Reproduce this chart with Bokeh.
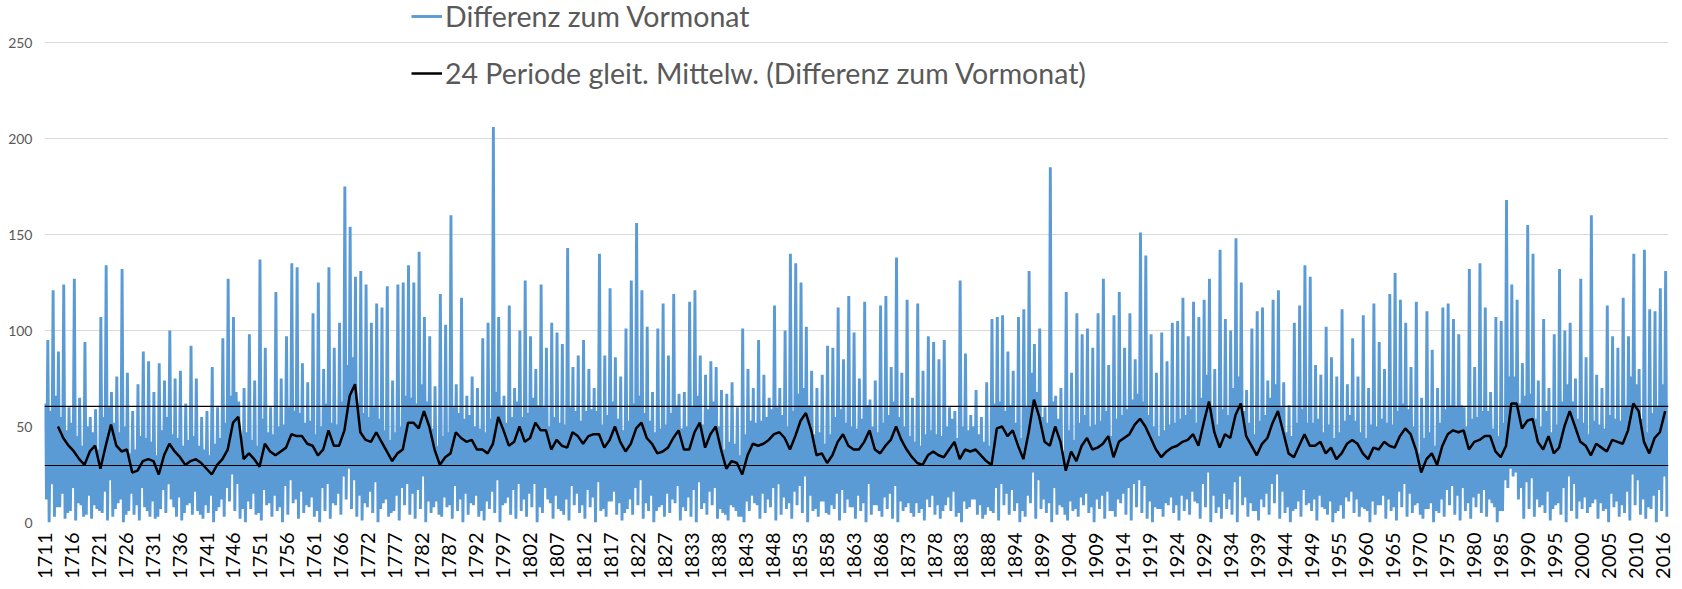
import math
from bokeh.plotting import figure
from bokeh.models import FixedTicker, Legend, LegendItem, Span, Range1d
from bokeh.embed import file_html
from bokeh.resources import INLINE

FIRST_YEAR = 1711
N_MONTHS = 3674
TICK_STEP_MONTHS = 61

x_tick_labels = [
    "1711", "1716", "1721", "1726", "1731", "1736", "1741", "1746", "1751", "1756",
    "1761", "1766", "1772", "1777", "1782", "1787", "1792", "1797", "1802", "1807",
    "1812", "1817", "1822", "1827", "1833", "1838", "1843", "1848", "1853", "1858",
    "1863", "1868", "1873", "1878", "1883", "1888", "1894", "1899", "1904", "1909",
    "1914", "1919", "1924", "1929", "1934", "1939", "1944", "1949", "1955", "1960",
    "1965", "1970", "1975", "1980", "1985", "1990", "1995", "2000", "2005", "2010",
    "2016",
]
y_ticks = [0, 50, 100, 150, 200, 250]

# yearly highest spike of "Differenz zum Vormonat" (1711 .. 2016)
yearly_peak = [
    95, 121, 89, 124, 60, 127, 65, 94, 55, 59,
    107, 134, 68, 76, 132, 78, 58, 72, 89, 84,
    68, 83, 74, 100, 75, 79, 62, 92, 75, 55,
    58, 81, 60, 96, 127, 107, 63, 70, 98, 74,
    137, 91, 60, 120, 75, 97, 135, 133, 83, 73,
    109, 125, 80, 133, 91, 104, 175, 154, 128, 131,
    124, 104, 114, 112, 123, 74, 124, 125, 134, 125,
    141, 107, 97, 71, 119, 103, 160, 72, 117, 66,
    76, 70, 96, 104, 206, 107, 66, 113, 70, 100,
    126, 97, 80, 124, 91, 104, 99, 93, 143, 81,
    87, 95, 80, 70, 140, 87, 122, 86, 76, 101,
    126, 156, 121, 102, 68, 101, 114, 87, 119, 67,
    68, 115, 121, 87, 77, 84, 81, 69, 67, 73,
    60, 101, 80, 70, 95, 77, 65, 113, 70, 100,
    140, 135, 125, 102, 79, 70, 77, 92, 91, 112,
    85, 118, 99, 75, 115, 64, 74, 113, 118, 81,
    138, 78, 116, 65, 114, 79, 97, 94, 85, 95,
    60, 58, 126, 88, 56, 69, 55, 73, 106, 107,
    108, 89, 79, 107, 111, 131, 93, 101, 60, 185,
    66, 70, 120, 78, 109, 98, 101, 91, 109, 127,
    82, 108, 120, 91, 109, 85, 151, 139, 98, 78,
    99, 84, 104, 105, 117, 97, 115, 107, 116, 127,
    80, 142, 106, 100, 148, 125, 69, 101, 110, 112,
    74, 116, 121, 73, 61, 104, 113, 134, 128, 82,
    77, 102, 86, 76, 111, 72, 96, 76, 108, 70,
    114, 94, 80, 119, 130, 116, 104, 81, 115, 65,
    110, 90, 70, 112, 114, 106, 98, 60, 132, 81,
    135, 112, 68, 107, 105, 168, 124, 116, 83, 155,
    140, 74, 106, 70, 98, 132, 100, 104, 75, 127,
    86, 160, 77, 70, 113, 97, 91, 117, 97, 140,
    80, 142, 111, 110, 122, 131,
]

# yearly deepest dip (1711 .. 2016)
yearly_trough = [
    0, 3, 8, 2, 6, 1, 9, 4, 2, 7,
    5, 1, 3, 10, 0, 6, 4, 1, 8, 3,
    2, 7, 5, 12, 3, 1, 9, 4, 6, 2,
    5, 0, 8, 3, 11, 6, 2, 0, 7, 4,
    1, 9, 3, 6, 0, 4, 10, 2, 5, 8,
    3, 0, 6, 2, 9, 4, 12, 7, 3, 1,
    8, 5, 0, 10, 3, 6, 1, 9, 4, 2,
    7, 0, 5, 11, 3, 8, 2, 6, 0, 4,
    9, 3, 1, 7, 5, 0, 10, 4, 2, 6,
    3, 8, 0, 5, 12, 2, 7, 4, 1, 9,
    5, 2, 8, 0, 6, 3, 11, 4, 1, 7,
    4, 9, 2, 6, 0, 8, 3, 5, 10, 1,
    6, 3, 0, 7, 4, 9, 2, 5, 1, 8,
    3, 0, 6, 10, 2, 5, 8, 1, 4, 7,
    2, 9, 5, 0, 6, 3, 11, 4, 7, 1,
    5, 8, 2, 6, 0, 4, 9, 3, 7, 2,
    0, 6, 10, 3, 5, 1, 8, 4, 2, 9,
    6, 3, 0, 7, 12, 4, 2, 8, 5, 1,
    9, 4, 6, 0, 3, 10, 2, 7, 5, 0,
    4, 8, 1, 6, 3, 9, 5, 0, 7, 2,
    6, 3, 10, 4, 1, 8, 5, 2, 0, 7,
    3, 9, 5, 1, 6, 4, 11, 2, 8, 0,
    5, 2, 7, 4, 0, 9, 3, 6, 1, 8,
    4, 10, 2, 5, 0, 7, 3, 9, 6, 1,
    8, 4, 0, 6, 2, 11, 5, 3, 7, 0,
    4, 9, 2, 6, 1, 8, 3, 5, 10, 2,
    7, 0, 5, 3, 9, 4, 1, 6, 2, 8,
    5, 3, 10, 0, 6, 18, 24, 12, 2, 7,
    3, 8, 5, 1, 9, 4, 0, 6, 2, 7,
    5, 10, 2, 6, 0, 8, 3, 5, 1, 9,
    4, 2, 7, 0, 6, 3,
]

# yearly top of the dense blue band (secondary monthly highs), 1711 .. 2016
yearly_band_high = [
    62, 58, 66, 55, 48, 52, 45, 40, 50, 47,
    38, 55, 60, 52, 47, 50, 36, 38, 45, 44,
    42, 35, 48, 55, 46, 44, 40, 43, 45, 40,
    38, 35, 41, 44, 52, 66, 68, 45, 47, 43,
    40, 54, 47, 46, 50, 51, 60, 58, 57, 52,
    53, 46, 50, 62, 52, 51, 63, 82, 86, 62,
    57, 55, 60, 54, 48, 43, 47, 50, 66, 65,
    62, 72, 63, 49, 40, 45, 47, 60, 57, 54,
    56, 50, 49, 47, 54, 68, 61, 52, 55, 63,
    55, 57, 65, 61, 60, 50, 55, 52, 51, 60,
    58, 53, 58, 59, 58, 51, 56, 63, 54, 48,
    53, 62, 66, 57, 53, 47, 49, 51, 57, 61,
    49, 50, 60, 66, 51, 59, 63, 50, 38, 42,
    41, 35, 46, 53, 52, 53, 55, 59, 60, 56,
    50, 58, 67, 70, 61, 46, 47, 41, 46, 55,
    59, 52, 50, 49, 54, 61, 50, 47, 52, 56,
    63, 55, 50, 45, 42, 40, 46, 48, 46, 45,
    50, 54, 44, 50, 48, 50, 46, 42, 40, 62,
    63, 58, 61, 52, 44, 60, 78, 68, 55, 52,
    63, 54, 37, 48, 43, 52, 56, 50, 51, 53,
    58, 45, 54, 56, 59, 64, 67, 63, 56, 50,
    45, 48, 51, 52, 54, 56, 59, 52, 65, 77,
    60, 51, 59, 56, 70, 76, 58, 52, 46, 53,
    56, 65, 72, 60, 47, 45, 52, 59, 52, 52,
    54, 47, 51, 44, 47, 53, 56, 53, 47, 44,
    51, 50, 54, 52, 51, 58, 62, 59, 50, 36,
    44, 47, 40, 52, 59, 61, 60, 61, 50, 54,
    55, 58, 58, 49, 45, 52, 76, 76, 62, 66,
    67, 54, 50, 58, 47, 51, 63, 72, 63, 54,
    52, 46, 53, 51, 49, 56, 54, 53, 61, 76,
    72, 54, 47, 57, 60, 72,
]

# yearly bottom of the dense blue band (secondary monthly lows), 1711 .. 2016
yearly_band_low = [
    12, 20, 8, 15, 5, 18, 10, 3, 14, 9,
    6, 16, 22, 7, 12, 4, 15, 9, 18, 6,
    11, 3, 17, 20, 8, 13, 5, 10, 16, 4,
    9, 14, 6, 12, 18, 25, 20, 7, 11, 15,
    5, 17, 10, 14, 8, 19, 22, 12, 16, 9,
    13, 6, 18, 20, 10, 15, 24, 28, 22, 14,
    10, 16, 21, 7, 12, 5, 14, 18, 20, 15,
    17, 24, 11, 8, 4, 13, 9, 19, 12, 15,
    10, 14, 6, 11, 16, 22, 9, 13, 17, 20,
    12, 15, 20, 8, 18, 10, 14, 6, 12, 19,
    15, 9, 17, 13, 21, 7, 11, 16, 10, 5,
    12, 18, 22, 10, 14, 6, 9, 15, 12, 19,
    8, 13, 17, 21, 10, 16, 18, 7, 4, 9,
    6, 3, 11, 14, 9, 15, 12, 18, 20, 13,
    10, 16, 19, 24, 14, 7, 11, 5, 9, 15,
    17, 12, 8, 14, 10, 20, 9, 6, 13, 15,
    19, 11, 8, 5, 10, 7, 12, 14, 9, 6,
    13, 16, 5, 11, 8, 12, 9, 4, 6, 18,
    20, 15, 17, 10, 6, 14, 26, 22, 12, 10,
    18, 9, 4, 11, 7, 13, 15, 8, 12, 14,
    16, 6, 12, 15, 18, 20, 22, 19, 11, 8,
    7, 10, 13, 9, 14, 12, 16, 10, 20, 26,
    14, 8, 15, 12, 21, 24, 13, 10, 6, 12,
    15, 20, 25, 16, 8, 6, 11, 17, 10, 12,
    14, 7, 11, 5, 9, 13, 16, 12, 8, 6,
    11, 9, 14, 12, 8, 16, 20, 15, 9, 4,
    7, 10, 6, 12, 17, 19, 14, 18, 10, 13,
    15, 17, 12, 8, 6, 22, 28, 26, 18, 21,
    23, 12, 9, 16, 7, 10, 18, 24, 20, 11,
    13, 8, 12, 10, 7, 15, 11, 9, 16, 25,
    22, 12, 8, 14, 17, 24,
]

# 24-period moving average, yearly readings (1713 .. 2016)
MA_FIRST_YEAR = 1713
ma_yearly = [
    50, 44, 40, 37, 33, 30, 37, 40,
    28, 40, 51, 40, 37, 38, 26, 27, 32, 33,
    32, 25, 35, 41, 37, 34, 30, 32, 33, 31,
    28, 25, 30, 33, 38, 52, 55, 33, 36, 33,
    29, 41, 37, 35, 37, 39, 46, 45, 45, 41,
    40, 35, 38, 48, 40, 40, 48, 66, 72, 47,
    43, 42, 47, 42, 37, 32, 36, 38, 52, 52,
    49, 58, 50, 38, 30, 34, 36, 47, 44, 42,
    43, 38, 38, 36, 41, 55, 48, 40, 42, 50,
    42, 44, 52, 48, 48, 38, 43, 40, 39, 47,
    45, 41, 45, 46, 46, 39, 43, 50, 42, 37,
    41, 49, 52, 44, 41, 36, 37, 39, 44, 48,
    38, 38, 47, 52, 39, 46, 50, 38, 28, 32,
    31, 25, 35, 41, 40, 41, 43, 46, 47, 44,
    38, 45, 53, 57, 48, 35, 36, 31, 35, 42,
    46, 40, 38, 38, 42, 48, 38, 36, 40, 43,
    50, 43, 38, 34, 31, 30, 35, 37, 35, 34,
    38, 42, 33, 38, 37, 38, 35, 32, 30, 49,
    50, 45, 48, 40, 33, 47, 64, 55, 42, 40,
    50, 42, 27, 37, 32, 40, 44, 38, 39, 41,
    45, 34, 42, 44, 46, 51, 54, 50, 44, 38,
    34, 37, 39, 40, 42, 43, 46, 40, 52, 63,
    47, 39, 46, 44, 56, 62, 45, 40, 35, 41,
    44, 52, 58, 47, 36, 34, 40, 46, 40, 40,
    42, 36, 39, 33, 36, 41, 43, 41, 36, 33,
    39, 38, 42, 40, 39, 45, 49, 46, 38, 26,
    33, 36, 30, 40, 46, 48, 47, 48, 38, 42,
    43, 45, 45, 37, 34, 40, 62, 62, 49, 53,
    54, 42, 38, 45, 36, 39, 50, 58, 50, 42,
    40, 35, 41, 39, 37, 43, 42, 41, 48, 62,
    58, 42, 36, 44, 47, 58,
]

reference_levels = [60.5, 29.7]

# ---- series positions (month index since Jan 1711) ----
diff_x, diff_y = [], []
for i in range(len(yearly_peak)):
    base = 12 * i
    diff_x += [base + 1, base + 4, base + 7, base + 10]
    diff_y += [yearly_band_high[i], yearly_band_low[i], yearly_peak[i], yearly_trough[i]]
ma_x = [12 * (MA_FIRST_YEAR - FIRST_YEAR + i) + 6 for i in range(len(ma_yearly))]

FONT = "Lato"

# frame reaches up to the window top so the legend (which sits above the
# 250 gridline in the original) is not clipped; 250 stays 480 px above 0.
FRAME_H = 522
Y_TOP = 250 * FRAME_H / 480

p = figure(
    frame_width=1624, frame_height=FRAME_H,
    min_border_left=44, min_border_right=6, min_border_top=0, min_border_bottom=59,
    output_backend="svg", toolbar_location=None,
    x_range=Range1d(-0.5, N_MONTHS - 0.5), y_range=Range1d(0, Y_TOP),
)
p.outline_line_color = None
p.background_fill_color = "white"
p.border_fill_color = "white"

r_diff = p.line(diff_x, diff_y, line_color="#5B9BD5", line_width=2.9)
r_ma = p.line(ma_x, ma_yearly, line_color="black", line_width=2.5)
for lvl in reference_levels:
    p.add_layout(Span(location=lvl, dimension="width", line_color="black", line_width=1.2))

# axes
tick_positions = [TICK_STEP_MONTHS * k for k in range(len(x_tick_labels))]
p.xaxis.ticker = FixedTicker(ticks=tick_positions)
p.xaxis.major_label_overrides = {t: lab for t, lab in zip(tick_positions, x_tick_labels)}
p.xaxis.major_label_orientation = math.pi / 2
p.xaxis.major_label_text_font = FONT
p.xaxis.major_label_text_font_size = "20px"
p.xaxis.major_label_text_color = "black"
p.xaxis.major_label_standoff = 10
p.xaxis.axis_line_color = None
p.xaxis.major_tick_line_color = None
p.xaxis.minor_tick_line_color = None
p.xaxis.major_tick_out = 0

p.yaxis.ticker = FixedTicker(ticks=y_ticks)
p.yaxis.major_label_text_font = FONT
p.yaxis.major_label_text_font_size = "14px"
p.yaxis.major_label_text_color = "#595959"
p.yaxis.major_label_standoff = 12
p.yaxis.axis_line_color = None
p.yaxis.major_tick_line_color = None
p.yaxis.minor_tick_line_color = None
p.yaxis.major_tick_out = 0

p.xgrid.grid_line_color = None
p.ygrid.grid_line_color = "#D9D9D9"
p.ygrid.grid_line_width = 1

legend = Legend(
    items=[
        LegendItem(label="Differenz zum Vormonat", renderers=[r_diff]),
        LegendItem(label="24 Periode gleit. Mittelw. (Differenz zum Vormonat)", renderers=[r_ma]),
    ],
    location=(367, 432), orientation="vertical",
    label_text_font=FONT, label_text_font_size="28.5px", label_text_color="#595959",
    glyph_width=31, glyph_height=30, label_height=30, spacing=23,
    padding=0, margin=0, label_standoff=3,
    background_fill_alpha=0, border_line_alpha=0,
)
p.add_layout(legend)

open("out.html", "w").write(file_html(p, INLINE))
